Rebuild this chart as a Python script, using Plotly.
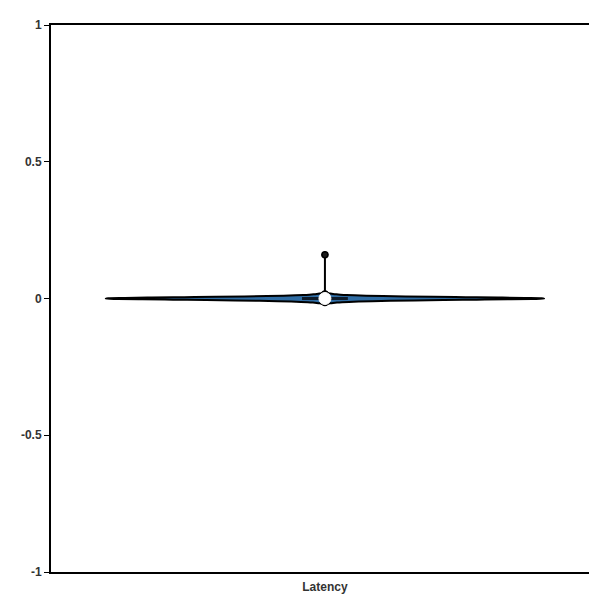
import numpy as np
import plotly.graph_objects as go

category = "Latency"
latency = (
    [0.000] * 24
    + [0.001, -0.001] * 12
    + [0.002, -0.002] * 9
    + [0.003, -0.003] * 7
    + [0.004, -0.004] * 5
    + [0.005, -0.005] * 4
    + [0.006, -0.006] * 3
    + [0.008, -0.008] * 3
    + [0.010, -0.010] * 2
    + [0.013, -0.012] * 2
    + [0.016, -0.015]
    + [0.16]
)
y_ticks = [-1, -0.5, 0, 0.5, 1]
y_tick_labels = ["-1", "-0.5", "0", "0.5", "1"]

median = float(np.median(latency))

font = dict(family="Liberation Sans, Arial, sans-serif", size=12, color="#333333", weight="bold")

fig = go.Figure()
fig.add_trace(go.Violin(
    x=[category] * len(latency),
    y=latency,
    name=category,
    width=0.8,
    bandwidth=0.004,
    fillcolor="#2f6ca3",
    line=dict(color="#000000", width=2),
    opacity=1,
    points="outliers",
    marker=dict(color="#1a1a1a", size=6, line=dict(color="#000000", width=1.5)),
    box=dict(visible=True, width=0.1, fillcolor="#1c3d5e", line=dict(color="#0d1b2a", width=2)),
    meanline=dict(visible=False),
    hoverinfo="skip",
    showlegend=False,
))
fig.add_trace(go.Scatter(
    x=[category], y=[median], mode="markers",
    marker=dict(color="#ffffff", size=12, line=dict(color="#ffffff", width=1)),
    hoverinfo="skip", showlegend=False,
))

fig.update_layout(
    width=589, height=600,
    margin=dict(l=51, r=0, t=25, b=28),
    paper_bgcolor="#ffffff", plot_bgcolor="#ffffff",
    font=font,
    showlegend=False,
)
fig.update_xaxes(
    type="category", range=[-0.5, 0.482],
    showline=True, linecolor="#000000", linewidth=2, mirror=True,
    showgrid=False, zeroline=False, ticks="", tickfont=font,
    ticklabelstandoff=3,
)
fig.update_yaxes(
    range=[-1, 1], tickvals=y_ticks, ticktext=y_tick_labels,
    showline=True, linecolor="#000000", linewidth=2, mirror=False,
    ticks="outside", ticklen=5, tickcolor="#000000", tickwidth=1,
    showgrid=False, zeroline=False, tickfont=font,
)
fig.write_html("out.html")
